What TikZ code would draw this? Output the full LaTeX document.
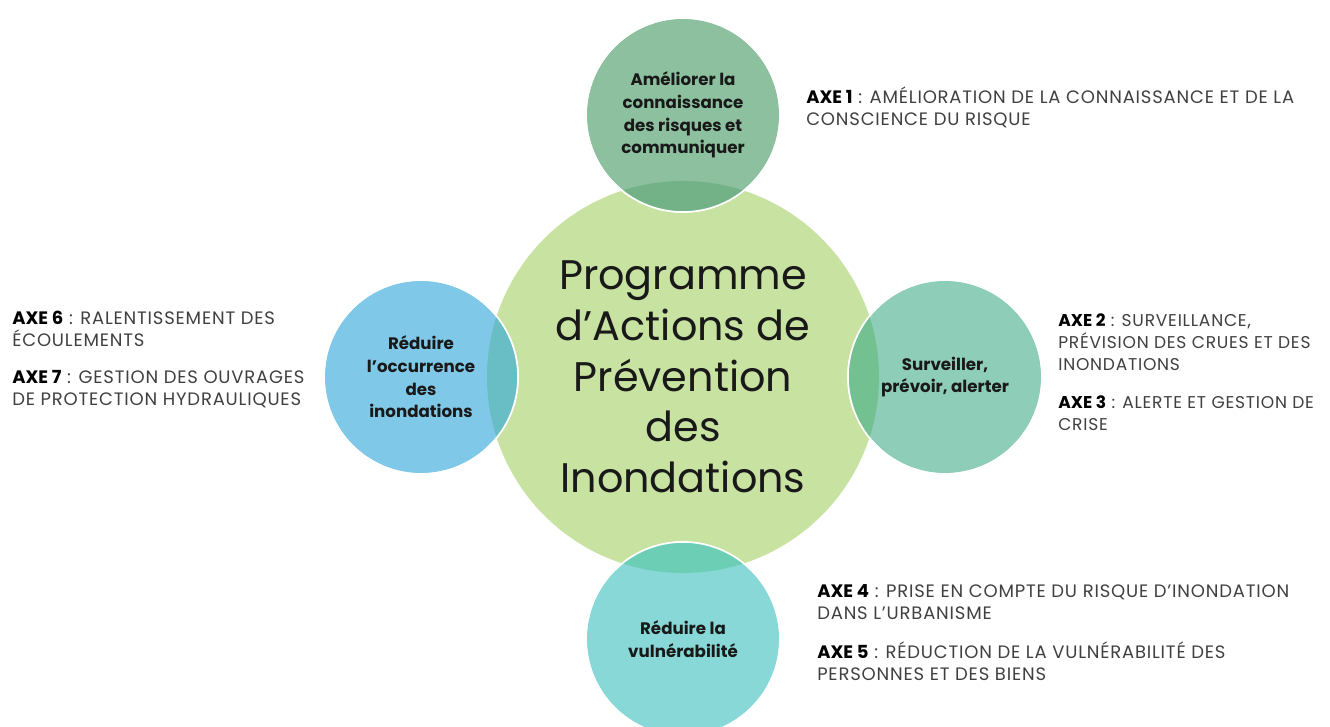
\documentclass[tikz,border=0pt]{standalone}
\usepackage{fontspec}
\setmainfont{Poppins}
\newfontfamily\axefont{Poppins}[LetterSpace=4.5]
\usetikzlibrary{positioning}
\definecolor{hubgreen}{RGB}{200,226,162}
\definecolor{conngreen}{RGB}{140,192,158}
\definecolor{connover}{RGB}{115,178,135}
\definecolor{occblue}{RGB}{128,200,232}
\definecolor{occover}{RGB}{104,190,196}
\definecolor{survgreen}{RGB}{142,205,184}
\definecolor{survover}{RGB}{115,192,145}
\definecolor{vulncyan}{RGB}{136,216,216}
\definecolor{vulnover}{RGB}{108,206,180}
\definecolor{axegray}{RGB}{64,64,64}
\newcommand{\axelabel}[1]{\textcolor{black}{\normalfont\bfseries AXE #1}}

\begin{document}
\begin{tikzpicture}[x=0.75pt, y=0.75pt, node distance={196.5pt},
    hub/.style = {circle, fill=hubgreen, minimum size=294pt, inner sep=0pt, align=center, text=black!90, font=\fontsize{31}{38}\selectfont},
    sat/.style = {circle, on grid, draw=white, line width=1.2pt, minimum size=145.5pt, inner sep=0pt, align=center, text=black!90, font=\fontsize{12.5}{17}\selectfont\bfseries},
    axe/.style = {anchor=base west, align=left, inner sep=0pt, text=axegray, font=\axefont\fontsize{13.5}{16.5}\selectfont},
    narrow/.style = {font=\axefont\fontsize{12.8}{16.5}\selectfont}]
    \useasboundingbox (0,0) rectangle (1330,727);
    \clip (0,0) rectangle (1330,727);

    \node[hub] (prog) at (683,350) {Programme\\d’Actions de\\Prévention\\des\\Inondations};
    \node[sat, fill=conngreen, above=of prog] (conn) {Améliorer la\\connaissance\\des risques et\\communiquer};
    \node[sat, fill=occblue, left=of prog] (occ) {Réduire\\l’occurrence\\des\\inondations};
    \node[sat, fill=survgreen, right=of prog] (surv) {Surveiller,\\prévoir, alerter};
    \node[sat, fill=vulncyan, below=of prog] (vuln) {Réduire la\\vulnérabilité};

    \begin{scope}
        \clip (prog.center) circle (147pt);
        \fill[connover] (conn.center) circle (72.75pt);
        \fill[occover] (occ.center) circle (72.75pt);
        \fill[survover] (surv.center) circle (72.75pt);
        \fill[vulnover] (vuln.center) circle (72.75pt);
    \end{scope}
    \foreach \s in {conn,occ,surv,vuln}
        \draw[white, line width=1.2pt] (\s.center) circle (72.75pt);

    \node[axe] (ax1) at (806,601) {\axelabel{1} : AMÉLIORATION DE LA CONNAISSANCE ET DE LA\\CONSCIENCE DU RISQUE};
    \node[axe, narrow] (ax2) at (1058,356) {\axelabel{2} : SURVEILLANCE,\\PRÉVISION DES CRUES ET DES\\INONDATIONS};
    \node[axe, narrow] (ax3) at (1058,296) {\axelabel{3} : ALERTE ET GESTION DE\\CRISE};
    \node[axe] (ax4) at (817,107) {\axelabel{4} : PRISE EN COMPTE DU RISQUE D’INONDATION\\DANS L’URBANISME};
    \node[axe] (ax5) at (817,46) {\axelabel{5} : RÉDUCTION DE LA VULNÉRABILITÉ DES\\PERSONNES ET DES BIENS};
    \node[axe] (ax6) at (12,380) {\axelabel{6} : RALENTISSEMENT DES\\ÉCOULEMENTS};
    \node[axe] (ax7) at (12,321) {\axelabel{7} : GESTION DES OUVRAGES\\DE PROTECTION HYDRAULIQUES};
\end{tikzpicture}
\end{document}
